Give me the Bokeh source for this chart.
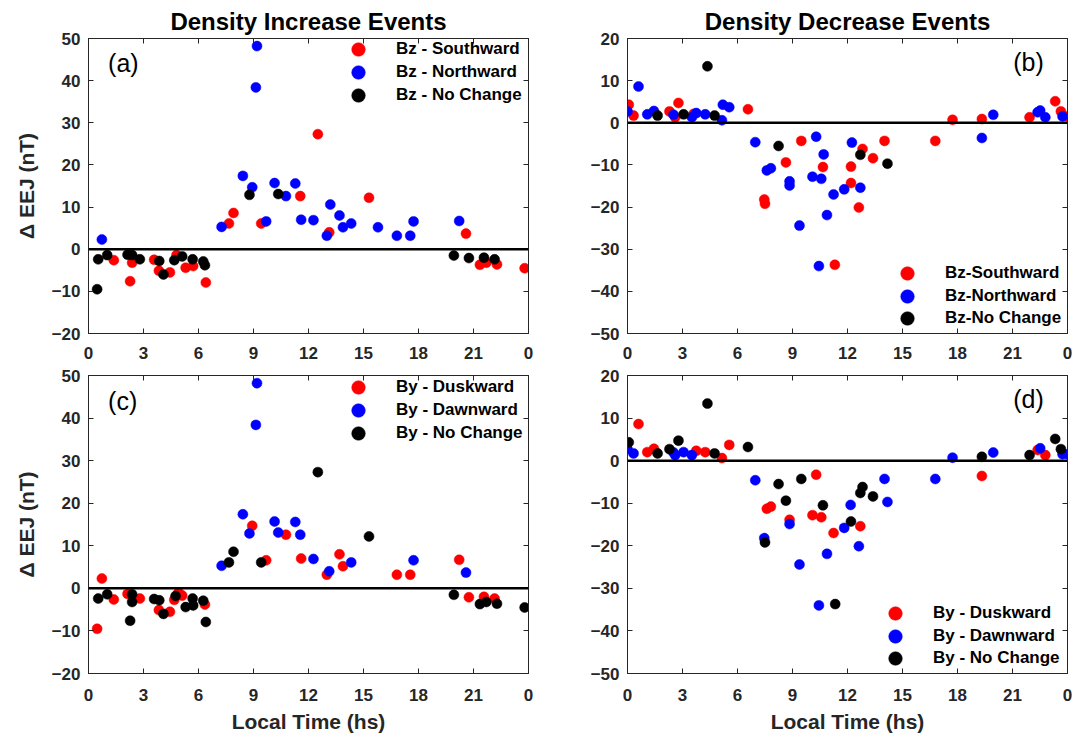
from bokeh.plotting import figure
from bokeh.layouts import column, row
from bokeh.models import (FixedTicker, LinearAxis, Range1d, Span, Label,
                          Legend, LegendItem)
from bokeh.embed import file_html
from bokeh.resources import INLINE

# ---------------- data ----------------
hour_ticks = [0, 3, 6, 9, 12, 15, 18, 21, 24]
hour_labels = {0: "0", 3: "3", 6: "6", 9: "9", 12: "12", 15: "15", 18: "18", 21: "21", 24: "0"}
inc_yticks = [-20, -10, 0, 10, 20, 30, 40, 50]
dec_yticks = [-50, -40, -30, -20, -10, 0, 10, 20]

# (a) density increase, Bz
a_south_lt = [1.38, 2.38, 2.27, 3.58, 3.84, 4.44, 4.80, 5.30, 5.71, 6.40, 7.66, 7.91, 9.42, 11.55, 12.51, 13.13, 15.30, 20.59, 21.35, 21.70, 22.28, 23.79]
a_south_eej = [-2.6, -3.2, -7.6, -2.5, -5.1, -5.5, -1.4, -4.4, -4.0, -7.9, 6.1, 8.6, 6.1, 12.6, 27.3, 4.0, 12.2, 3.7, -3.7, -3.2, -3.6, -4.5]
a_north_lt = [0.73, 7.26, 8.42, 8.93, 9.13, 9.19, 9.69, 10.15, 10.77, 11.28, 11.60, 12.27, 13.19, 13.00, 13.69, 13.88, 14.33, 15.79, 16.82, 17.55, 17.73, 20.22]
a_north_eej = [2.3, 5.3, 17.4, 14.7, 38.4, 48.2, 6.6, 15.7, 12.6, 15.6, 7.0, 6.9, 10.6, 3.2, 8.0, 5.2, 6.1, 5.2, 3.2, 3.2, 6.6, 6.7]
a_none_lt = [0.47, 0.53, 1.02, 2.13, 2.38, 2.80, 3.86, 4.09, 4.68, 5.11, 5.68, 6.26, 6.35, 8.78, 10.35, 19.93, 20.75, 21.57, 22.15]
a_none_eej = [-9.5, -2.4, -1.4, -1.3, -1.4, -2.4, -2.8, -6.0, -2.6, -1.7, -2.4, -2.9, -3.8, 12.9, 13.1, -1.5, -2.1, -2.0, -2.4]

# (b) density decrease, Bz
b_south_lt = [0.07, 0.33, 2.29, 2.60, 2.78, 3.60, 6.57, 7.46, 7.50, 8.64, 9.48, 10.66, 11.31, 12.19, 12.19, 12.62, 12.82, 13.39, 14.02, 16.79, 17.73, 19.33, 21.93, 23.33, 23.64, 24.0]
b_south_eej = [4.3, 1.7, 2.7, 1.3, 4.7, 2.1, 3.2, -18.2, -19.2, -9.4, -4.3, -10.5, -33.7, -10.4, -14.3, -20.1, -6.2, -8.4, -4.3, -4.3, 0.7, 0.9, 1.3, 5.1, 2.7, 1.5]
b_north_lt = [0.0, 0.60, 1.08, 1.44, 2.51, 3.51, 3.75, 4.24, 5.15, 5.20, 5.55, 6.97, 7.60, 7.82, 8.84, 8.84, 9.38, 10.09, 10.29, 10.44, 10.57, 10.70, 10.88, 11.24, 11.82, 12.24, 12.70, 19.33, 19.95, 22.37, 22.51, 22.79, 23.73]
b_north_eej = [2.7, 8.6, 2.0, 2.8, 1.9, 1.3, 2.3, 2.0, 0.6, 4.3, 3.7, -4.6, -11.3, -10.8, -13.9, -14.9, -24.4, -12.8, -3.3, -34.0, -13.3, -7.5, -21.9, -17.0, -15.8, -4.7, -15.4, -3.6, 1.9, 2.5, 2.9, 1.3, 1.5]
b_none_lt = [1.64, 3.06, 4.36, 4.75, 8.24, 12.70, 14.18]
b_none_eej = [1.7, 2.0, 13.4, 1.7, -5.5, -7.6, -9.7]

# (c) density increase, By
c_dusk_lt = [0.47, 0.73, 1.38, 2.13, 2.80, 3.84, 4.44, 4.68, 4.91, 5.11, 6.35, 8.93, 9.69, 10.77, 11.60, 13.00, 13.69, 13.88, 16.82, 17.55, 20.22, 20.75, 21.57, 22.15]
c_dusk_eej = [-9.5, 2.3, -2.6, -1.3, -2.4, -5.1, -5.5, -2.7, -1.0, -1.7, -3.8, 14.7, 6.6, 12.6, 7.0, 3.2, 8.0, 5.2, 3.2, 3.2, 6.7, -2.1, -2.0, -2.4]
c_dawn_lt = [7.26, 8.42, 8.78, 9.13, 9.19, 10.15, 10.35, 11.28, 11.55, 12.27, 13.13, 14.33, 17.73, 20.59]
c_dawn_eej = [5.3, 17.4, 12.9, 38.4, 48.2, 15.7, 13.1, 15.6, 12.6, 6.9, 4.0, 6.1, 6.6, 3.7]
c_none_lt = [0.53, 1.02, 2.38, 2.38, 2.27, 3.58, 3.86, 4.09, 4.75, 5.30, 5.71, 5.68, 6.26, 6.40, 7.66, 7.91, 9.42, 12.51, 15.30, 19.93, 21.35, 21.70, 22.28, 23.79]
c_none_eej = [-2.4, -1.4, -1.4, -3.2, -7.6, -2.5, -2.8, -6.0, -1.8, -4.4, -4.0, -2.4, -2.9, -7.9, 6.1, 8.6, 6.1, 27.3, 12.2, -1.5, -3.7, -3.2, -3.6, -4.5]

# (d) density decrease, By
d_dusk_lt = [0.60, 1.08, 1.44, 3.75, 4.24, 5.15, 5.55, 7.60, 7.82, 8.84, 10.09, 10.29, 10.57, 11.24, 12.70, 19.33, 22.37, 22.79]
d_dusk_eej = [8.6, 2.0, 2.8, 2.3, 2.0, 0.6, 3.7, -11.3, -10.8, -13.9, -12.8, -3.3, -13.3, -17.0, -15.4, -3.6, 2.5, 1.3]
d_dawn_lt = [0.0, 0.33, 2.51, 2.60, 3.06, 3.51, 6.97, 7.46, 8.84, 9.38, 10.44, 10.88, 11.82, 12.17, 12.62, 14.02, 14.18, 16.79, 17.73, 19.95, 22.51, 23.73, 24.0]
d_dawn_eej = [2.7, 1.7, 1.9, 1.3, 2.0, 1.3, -4.6, -18.2, -14.9, -24.4, -34.0, -21.9, -15.8, -10.4, -20.1, -4.3, -9.7, -4.3, 0.7, 1.9, 2.9, 1.5, 1.5]
d_none_lt = [0.07, 1.64, 2.29, 2.78, 4.36, 4.75, 6.57, 7.50, 8.24, 8.64, 9.48, 10.66, 11.33, 12.19, 12.70, 12.82, 13.39, 19.33, 21.93, 23.33, 23.64]
d_none_eej = [4.3, 1.7, 2.7, 4.7, 13.4, 1.7, 3.2, -19.2, -5.5, -9.4, -4.3, -10.5, -33.7, -14.3, -7.6, -6.2, -8.4, 0.9, 1.3, 5.1, 2.7]

# ---------------- style ----------------
FONT = "Liberation Sans"
AX = "#262626"
COLORS = ["#ff0000", "#0000ff", "#000000"]


def make_panel(series, names, yr, yticks, tag, tag_xy, leg_x, leg_ys,
               title=None, ylabel=None, xlabel=None,
               left=88, right=10, top=38, bottom=30, fh=295, xstand=13):
    p = figure(frame_width=440, frame_height=fh,
               x_range=Range1d(0, 24), y_range=Range1d(*yr),
               output_backend="svg", toolbar_location=None,
               min_border_left=left, min_border_right=right,
               min_border_top=top, min_border_bottom=bottom,
               x_axis_location=None, y_axis_location=None)
    p.background_fill_color = "white"
    p.border_fill_color = "white"
    p.outline_line_color = AX
    p.xgrid.visible = False
    p.ygrid.visible = False
    if title:
        p.title.text = title
        p.title.align = "center"
        p.title.text_font = FONT
        p.title.text_font_size = "24px"
        p.title.text_font_style = "bold"
        p.title.text_color = "#000000"
        p.title.standoff = 8

    def style(ax, labels=True):
        ax.axis_line_color = AX
        ax.major_tick_line_color = AX
        ax.major_tick_in = 5
        ax.major_tick_out = 0
        ax.minor_tick_line_color = None
        ax.major_label_text_font = FONT
        ax.major_label_text_font_style = "bold"
        ax.major_label_text_color = AX
        ax.axis_label_text_font = FONT
        ax.axis_label_text_font_style = "bold"
        ax.axis_label_text_font_size = "21px"
        ax.axis_label_text_color = AX
        if labels:
            ax.major_label_text_font_size = "17px"
        else:
            ax.major_label_text_font_size = "0px"
            ax.major_label_text_color = None
            ax.major_label_standoff = 0

    xb = LinearAxis(ticker=FixedTicker(ticks=hour_ticks), major_label_overrides=hour_labels)
    style(xb)
    xb.major_label_standoff = xstand
    if xlabel:
        xb.axis_label = xlabel
        xb.axis_label_standoff = 6
    p.add_layout(xb, "below")
    xt = LinearAxis(ticker=FixedTicker(ticks=hour_ticks))
    style(xt, labels=False)
    p.add_layout(xt, "above")

    yl = LinearAxis(ticker=FixedTicker(ticks=yticks))
    style(yl)
    yl.major_label_standoff = 8
    if ylabel:
        yl.axis_label = ylabel
        yl.axis_label_standoff = 11
    p.add_layout(yl, "left")
    yrax = LinearAxis(ticker=FixedTicker(ticks=yticks))
    style(yrax, labels=False)
    p.add_layout(yrax, "right")

    p.add_layout(Span(location=0, dimension="width", line_color="black", line_width=2.5))

    for (xs, ys), name, col, ly in zip(series, names, COLORS, leg_ys):
        r = p.scatter(xs, ys, size=10, fill_color=col, line_color=col, line_width=0.5)
        leg = Legend(items=[LegendItem(label=name, renderers=[r])], location=(leg_x, ly),
                     glyph_width=34, glyph_height=34, spacing=0, padding=0, margin=0,
                     label_standoff=21, label_text_font=FONT, label_text_font_style="bold",
                     label_text_font_size="17px", label_text_color="black",
                     background_fill_alpha=0, border_line_alpha=0)
        p.add_layout(leg)

    p.add_layout(Label(x=tag_xy[0], y=tag_xy[1], text=tag, text_font=FONT,
                       text_font_size="25px", text_baseline="middle", text_color="black"))
    return p


pa = make_panel([(a_south_lt, a_south_eej), (a_north_lt, a_north_eej), (a_none_lt, a_none_eej)],
                ["Bz - Southward", "Bz - Northward", "Bz - No Change"],
                (-20, 50), inc_yticks, "(a)", (1.07, 44.2), 253, [267, 244, 221],
                title="Density Increase Events", ylabel="\u0394 EEJ (nT)",
                left=88, right=10, top=38, bottom=30, fh=295)
pb = make_panel([(b_south_lt, b_south_eej), (b_north_lt, b_north_eej), (b_none_lt, b_none_eej)],
                ["Bz-Southward", "Bz-Northward", "Bz-No Change"],
                (-50, 20), dec_yticks, "(b)", (21.04, 14.4), 263, [43, 20, -2],
                title="Density Decrease Events",
                left=89, right=8, top=38, bottom=30, fh=295)
pc = make_panel([(c_dusk_lt, c_dusk_eej), (c_dawn_lt, c_dawn_eej), (c_none_lt, c_none_eej)],
                ["By - Duskward", "By - Dawnward", "By - No Change"],
                (-20, 50), inc_yticks, "(c)", (1.07, 44.1), 253, [269, 246, 223],
                ylabel="\u0394 EEJ (nT)", xlabel="Local Time (hs)",
                left=88, right=10, top=12, bottom=68, fh=298, xstand=15)
pd_ = make_panel([(d_dusk_lt, d_dusk_eej), (d_dawn_lt, d_dawn_eej), (d_none_lt, d_none_eej)],
                 ["By - Duskward", "By - Dawnward", "By - No Change"],
                 (-50, 20), dec_yticks, "(d)", (21.04, 14.4), 251, [43, 20, -2],
                 xlabel="Local Time (hs)",
                 left=89, right=8, top=12, bottom=68, fh=298, xstand=15)

layout = column(row(pa, pb, spacing=0), row(pc, pd_, spacing=0), spacing=0)
open("out.html", "w").write(file_html(layout, INLINE))
